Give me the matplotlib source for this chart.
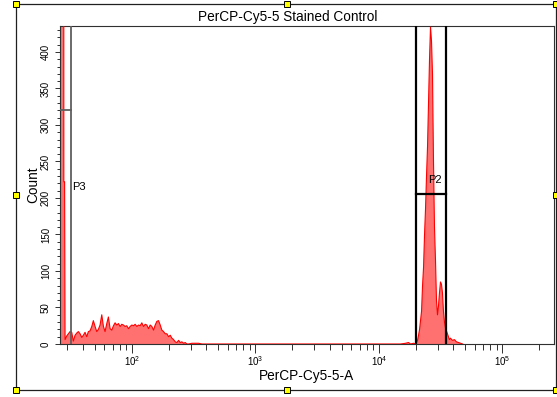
import numpy as np
import matplotlib
matplotlib.use("Agg")
import matplotlib.pyplot as plt
from matplotlib.lines import Line2D
from matplotlib.patches import Rectangle
from matplotlib.ticker import LogLocator, MultipleLocator, NullFormatter

plt.rcParams['font.family'] = ['Liberation Sans', 'DejaVu Sans']
plt.rcParams['mathtext.fontset'] = 'custom'
plt.rcParams['mathtext.rm'] = 'Liberation Sans'

# histogram of PerCP-Cy5-5-A (intensity, events per channel)
edge_int = [26.25, 27.9, 28.15, 28.55]
edge_cnt = [3000, 3000, 222, 222]

dim_int = [28.8, 29.7, 30.6, 31.6, 32.6, 33.6, 34.7, 35.8, 36.9, 38.1, 39.3, 40.5,
           41.8, 43.1, 44.5, 45.9, 47.4, 48.8, 50.4, 52.0, 53.6, 55.3, 57.1, 58.9,
           60.7, 62.7, 64.6, 66.7, 68.8, 71.0, 73.2, 75.5, 77.9, 80.4, 82.9, 85.5,
           88.2, 91.0, 93.9, 96.9, 100, 103.2, 106.4, 109.8, 113.3, 116.8, 120.5,
           124.3, 128.3, 132.3, 136.5, 140.8, 145.3, 149.9, 154.6, 159.5, 164.6,
           169.8, 175.1, 180.7, 186.4, 192.3, 198.4, 204.7, 211.1, 217.8, 224.7,
           231.8, 239.0, 246.6, 254.4, 262.4, 270.7, 279.3, 288.1, 306.6, 326.3,
           347.3, 369.5]
dim_cnt = [6, 11, 14, 17, 16, 4, 12, 15, 17, 14, 9, 12,
           16, 10, 17, 18, 24, 32, 24, 17, 20, 26, 40, 24,
           17, 28, 37, 21, 19, 25, 29, 26, 28, 24, 27, 26,
           24, 25, 21, 24, 26, 25, 27, 24, 26, 25, 29,
           24, 27, 26, 21, 26, 24, 19, 26, 31, 32,
           26, 19, 17, 14, 14, 10, 12, 8, 6, 3,
           2, 5, 2, 3, 1, 2, 0, 0, 1, 1,
           1, 0]

bright_int = [14990, 16470, 17410, 18070, 19100, 19820, 20210, 20590, 20980, 21380,
              21780, 22190, 22600, 23030, 23460, 23890, 24340, 24800, 25260, 25740,
              26220, 26710, 27210, 27720, 28240, 28770, 29310, 29860, 30420, 30990,
              31570, 32160, 32770, 33380, 34010, 34650, 35300, 35960, 36630, 37300,
              38020, 39460, 40960, 42510, 44280, 45940, 47700]
bright_cnt = [0, 1, 2, 0, 1, 0, 2, 5, 12, 20,
              32, 45, 80, 105, 150, 185, 230, 270, 330, 390,
              434, 415, 370, 250, 160, 115, 60, 40, 52, 70,
              85, 82, 70, 45, 30, 22, 18, 14, 10, 6,
              8, 5, 6, 3, 2, 1, 0]

x_range = (26.2, 262144)
y_range = (0, 436)

# interval gates: (low, high, marker height)
p3_gate = (26.2, 32.0, 321)
p2_gate = (19950, 35080, 205)

intensity = edge_int + dim_int + bright_int
counts = edge_cnt + dim_cnt + bright_cnt

fig = plt.figure(figsize=(5.57, 3.97), dpi=100)
ax = fig.add_axes([0.1077, 0.1335, 0.8869, 0.8018])

ax.fill_between(intensity, counts, 0, color='#ff7070', lw=0, zorder=2)
ax.plot(intensity, counts, color='#ff0000', lw=0.8, zorder=3)

ax.set_xscale('log')
ax.set_xlim(*x_range)
ax.set_ylim(*y_range)

# P3 gate
ax.axvline(p3_gate[1], color='#5f5f5f', lw=1.3, zorder=4)
ax.plot([p3_gate[0], p3_gate[1]], [p3_gate[2], p3_gate[2]], color='#5f5f5f', lw=1.3, zorder=4)
ax.text(33.0, 215, 'P3', fontsize=8, ha='left', va='center', zorder=5)

# P2 gate
for xv in p2_gate[:2]:
    ax.axvline(xv, color='black', lw=1.6, zorder=4)
ax.plot([p2_gate[0], p2_gate[1]], [p2_gate[2], p2_gate[2]], color='black', lw=1.6, zorder=4)
ax.text(25290, 224, 'P2', fontsize=8, ha='left', va='center', zorder=5)

# axes styling
for s in ax.spines.values():
    s.set_color('#303030')
    s.set_linewidth(0.8)

ax.xaxis.set_major_locator(LogLocator(base=10))
ax.xaxis.set_minor_locator(LogLocator(base=10, subs=np.arange(2, 10)))
ax.xaxis.set_minor_formatter(NullFormatter())
ax.yaxis.set_major_locator(MultipleLocator(50))
ax.yaxis.set_minor_locator(MultipleLocator(10))

ax.tick_params(axis='x', which='major', length=6.5, width=0.7, pad=0.5, labelsize=7, color='#303030')
ax.tick_params(axis='x', which='minor', length=4.3, width=0.7, color='#303030')
ax.tick_params(axis='y', which='major', length=3.6, width=0.7, pad=3, labelsize=7,
               labelrotation=90, color='#303030')
ax.tick_params(axis='y', which='minor', length=2.2, width=0.7, color='#303030')
for lab in ax.get_yticklabels():
    lab.set_va('center')

ax.set_xlabel('PerCP-Cy5-5-A', fontsize=9.8)
ax.xaxis.set_label_coords(0.5, -0.08)
ax.set_ylabel('Count', fontsize=9.8)
ax.yaxis.set_label_coords(-0.055, 0.5)
ax.yaxis.label.set_va('center')

fig.text(0.516, 0.957, 'PerCP-Cy5-5 Stained Control', fontsize=9.8, ha='center', va='center')

# selection frame with resize handles
W, H = 557.0, 397.0
left, right, top, bottom = 16 / W, 556 / W, 1 - 4 / H, 1 - 390 / H
fig.add_artist(Line2D([left, right, right, left, left], [top, top, bottom, bottom, top],
                      color='#202020', lw=0.9, transform=fig.transFigure))
mid_x = 287 / W
mid_y = 1 - 195 / H
hw, hh = 3.2 / W, 3.2 / H
for hx, hy in [(left, top), (mid_x, top), (right, top), (left, mid_y), (right, mid_y),
               (left, bottom), (mid_x, bottom), (right, bottom)]:
    fig.add_artist(Rectangle((hx - hw, hy - hh), 2 * hw, 2 * hh, facecolor='#ffff00',
                             edgecolor='black', lw=0.7, transform=fig.transFigure, zorder=10))

fig.savefig('out.png', dpi=100)
